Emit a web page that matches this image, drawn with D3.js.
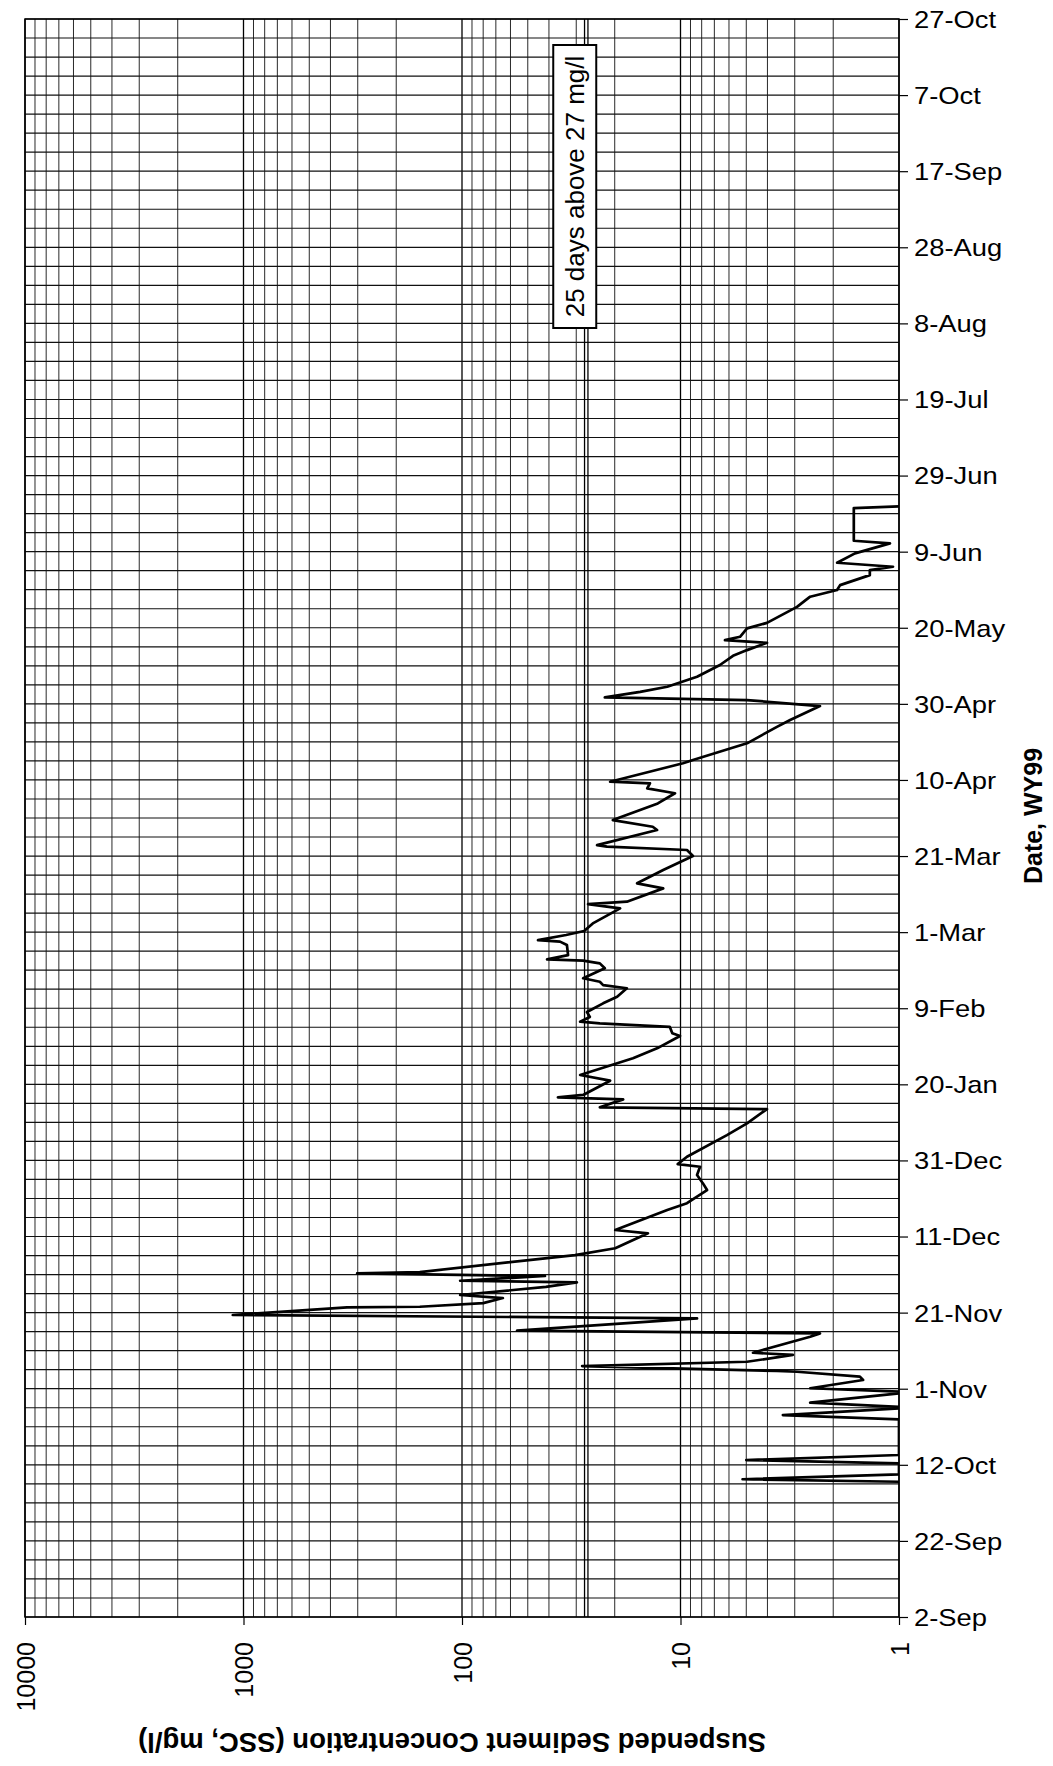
<!DOCTYPE html>
<html>
<head>
<meta charset="utf-8">
<script src="https://cdn.jsdelivr.net/npm/d3@7"></script>
<style>
  body { margin: 0; background: #fff; }
  text { font-family: "Liberation Sans", Arial, sans-serif; fill: #000; }
</style>
</head>
<body>
<svg id="chart" width="1053" height="1766"></svg>
<script>
// Suspended sediment concentration record, water year 1999
const sampleTimes = [
  "1998-10-07T13:00","1998-10-08T05:00","1998-10-09T12:00","1998-10-12T09:00","1998-10-13T06:00",
  "1998-10-14T14:00","1998-10-23T23:00","1998-10-25T02:00","1998-10-26T20:00","1998-10-27T06:00",
  "1998-10-28T08:00","1998-10-30T19:00","1998-10-31T05:00","1998-11-01T03:00","1998-11-03T07:00",
  "1998-11-04T04:00","1998-11-05T11:00","1998-11-05T16:00","1998-11-06T23:00","1998-11-08T02:00",
  "1998-11-09T21:00","1998-11-10T11:00","1998-11-14T16:00","1998-11-15T13:00","1998-11-16T06:00",
  "1998-11-19T12:00","1998-11-20T09:00","1998-11-22T09:00","1998-11-22T13:00","1998-11-23T12:00",
  "1998-11-24T20:00","1998-11-25T15:00","1998-11-27T18:00","1998-11-28T23:00","1998-11-29T09:00",
  "1998-11-30T15:00","1998-12-01T07:00","1998-12-01T16:00","1998-12-05T06:00","1998-12-06T03:00",
  "1998-12-07T22:00","1998-12-11T20:00","1998-12-12T17:00","1998-12-17T23:00","1998-12-19T18:00",
  "1998-12-23T05:00","1998-12-24T23:00","1998-12-27T04:00","1998-12-29T08:00","1998-12-30T01:00",
  "1998-12-31T23:00","1999-01-06T16:00","1999-01-09T18:00","1999-01-13T12:00","1999-01-13T23:00",
  "1999-01-16T01:00","1999-01-16T14:00","1999-01-17T05:00","1999-01-20T23:00","1999-01-22T11:00",
  "1999-01-26T20:00","1999-01-29T11:00","1999-02-01T17:00","1999-02-02T10:00","1999-02-04T03:00",
  "1999-02-05T01:00","1999-02-05T11:00","1999-02-06T17:00","1999-02-08T00:00","1999-02-10T07:00",
  "1999-02-12T00:00","1999-02-14T06:00","1999-02-15T02:00","1999-02-15T23:00","1999-02-16T21:00",
  "1999-02-19T12:00","1999-02-20T19:00","1999-02-21T12:00","1999-02-21T20:00","1999-02-22T23:00",
  "1999-02-25T15:00","1999-02-26T12:00","1999-02-26T22:00","1999-02-28T06:00","1999-03-01T07:00",
  "1999-03-03T07:00","1999-03-07T06:00","1999-03-08T09:00","1999-03-09T00:00","1999-03-12T12:00",
  "1999-03-13T20:00","1999-03-17T08:00","1999-03-21T00:00","1999-03-22T14:00","1999-03-23T11:00",
  "1999-03-23T21:00","1999-03-27T20:00","1999-03-28T17:00","1999-03-30T11:00","1999-04-03T20:00",
  "1999-04-06T12:00","1999-04-07T19:00","1999-04-09T03:00","1999-04-09T13:00","1999-04-14T09:00",
  "1999-04-15T06:00","1999-04-19T15:00","1999-04-23T23:00","1999-04-25T18:00","1999-04-29T10:00",
  "1999-05-01T00:00","1999-05-01T17:00","1999-05-03T04:00","1999-05-04T12:00","1999-05-07T03:00",
  "1999-05-10T05:00","1999-05-12T15:00","1999-05-14T03:00","1999-05-16T01:00","1999-05-16T18:00",
  "1999-05-17T15:00","1999-05-19T20:00","1999-05-21T07:00","1999-05-25T12:00","1999-05-28T04:00",
  "1999-05-29T22:00","1999-05-31T05:00","1999-06-02T20:00","1999-06-04T04:00","1999-06-05T01:00",
  "1999-06-06T02:00","1999-06-08T13:00","1999-06-11T04:00","1999-06-11T21:00","1999-06-20T11:00",
  "1999-06-20T22:00"
];

// SSC, mg/l
const sscValues = [
  1, 5.2, 1, 1, 5.0,
  1, 1, 3.4, 1, 1,
  2.55, 1, 1, 2.55, 1.46,
  1.51, 2.93, 3.62, 28.2, 4.96,
  3.06, 4.66, 2.55, 2.30, 56,
  8.4, 1120, 336, 156, 80,
  65, 102, 41.3, 29.8, 102,
  41.7, 302, 156, 41.7, 30.4,
  19.9, 14.1, 19.9, 11.5, 9.34,
  7.56, 7.89, 8.4, 8.14, 10.3,
  9.34, 6.13, 4.96, 4.02, 23.4,
  18.3, 36.4, 27.9, 21.0, 28.8,
  16.5, 12.8, 10.05, 10.9, 11.2,
  23.4, 28.8, 26.0, 26.8, 22.6,
  19.5, 17.6, 22.6, 23.4, 27.9,
  22.2, 23.4, 27.9, 40.8, 32.7,
  33.1, 35.6, 44.9, 33.4, 27.6,
  25.2, 18.9, 26.5, 17.6, 12.0,
  15.8, 12.0, 8.77, 9.34, 21.7,
  24.1, 12.8, 13.4, 20.4, 12.7,
  10.6, 14.2, 13.8, 21.0, 9.74,
  8.77, 4.96, 3.62, 3.15, 2.30,
  4.96, 22.2, 15.3, 11.5, 8.4,
  6.6, 5.75, 4.96, 4.02, 6.26,
  5.34, 4.96, 4.02, 2.93, 2.55,
  1.92, 1.86, 1.36, 1.36, 1.065,
  1.92, 1.59, 1.10, 1.61, 1.61,
  1
];

// Date axis (labelled every 20 days, gridlines every 5 days)
const dateStart = "1998-09-02";
const dateEnd = "1999-10-27";
const dateTickStep = 20;
const dateGridStep = 5;

// Concentration axis (log)
const sscTicks = [10000, 1000, 100, 10, 1];

// Reference concentration and its note
const threshold = 27;
const thresholdNote = "25 days above 27 mg/l";

const xTitle = "Suspended Sediment Concentration (SSC, mg/l)";
const yTitle = "Date, WY99";

// ---------------------------------------------------------------
const svg = d3.select("#chart");
const W = 1053, H = 1766;
const plot = { left: 25, right: 899, top: 19, bottom: 1617 };

svg.append("rect").attr("width", W).attr("height", H).attr("fill", "#fff");

const parseDay = d3.utcParse("%Y-%m-%d");
const parseTime = d3.utcParse("%Y-%m-%dT%H:%M");
const t0 = parseDay(dateStart), t1 = parseDay(dateEnd);

const y = d3.scaleUtc().domain([t0, t1]).range([plot.bottom, plot.top]);
const x = d3.scaleLog().domain([1, 10000]).range([plot.right, plot.left]);

const nDays = d3.utcDay.count(t0, t1);
const gridDates = d3.range(0, nDays + 1, dateGridStep).map(n => d3.utcDay.offset(t0, n));
const tickDates = d3.range(0, nDays + 1, dateTickStep).map(n => d3.utcDay.offset(t0, n));

// minor log gridlines 2..9 in each decade
const minorSsc = [];
[1, 10, 100, 1000].forEach(d => { for (let k = 2; k <= 9; k++) minorSsc.push(d * k); });

const grid = svg.append("g");
grid.selectAll("line.vmin").data(minorSsc).join("line")
  .attr("x1", d => x(d)).attr("x2", d => x(d))
  .attr("y1", plot.top).attr("y2", plot.bottom)
  .attr("stroke", "#2a2a2a").attr("stroke-width", 1);
grid.selectAll("line.vmaj").data(sscTicks).join("line")
  .attr("x1", d => x(d)).attr("x2", d => x(d))
  .attr("y1", plot.top).attr("y2", plot.bottom)
  .attr("stroke", "#000").attr("stroke-width", 1.3);
grid.selectAll("line.h").data(gridDates).join("line")
  .attr("x1", plot.left).attr("x2", plot.right)
  .attr("y1", d => y(d)).attr("y2", d => y(d))
  .attr("stroke", "#111").attr("stroke-width", 1.2);

// Reference concentration line (double rule)
const xt = x(threshold);
[-1.7, 1.7].forEach(o => {
  svg.append("line")
    .attr("x1", xt + o).attr("x2", xt + o)
    .attr("y1", plot.top).attr("y2", plot.bottom)
    .attr("stroke", "#000").attr("stroke-width", 1.3);
});

// Data line
const series = sampleTimes.map((t, i) => ({ t: parseTime(t), v: sscValues[i] }));
svg.append("clipPath").attr("id", "plotClip").append("rect")
  .attr("x", plot.left).attr("y", plot.top)
  .attr("width", plot.right - plot.left).attr("height", plot.bottom - plot.top);
svg.append("path")
  .datum(series)
  .attr("clip-path", "url(#plotClip)")
  .attr("fill", "none").attr("stroke", "#000")
  .attr("stroke-width", 2.7).attr("stroke-linejoin", "round")
  .attr("d", d3.line().x(d => x(d.v)).y(d => y(d.t)));

// Plot frame
svg.append("rect")
  .attr("x", plot.left).attr("y", plot.top)
  .attr("width", plot.right - plot.left).attr("height", plot.bottom - plot.top)
  .attr("fill", "none").attr("stroke", "#000").attr("stroke-width", 1.5);

// Date axis on the right
const fmtDate = d3.utcFormat("%-d-%b");
const yAxis = svg.append("g")
  .attr("transform", `translate(${plot.right},0)`)
  .call(d3.axisRight(y).tickValues(tickDates).tickSize(9).tickFormat(fmtDate));
yAxis.select(".domain").remove();
yAxis.selectAll(".tick line").attr("stroke", "#000").attr("stroke-width", 1.2);
yAxis.selectAll(".tick text")
  .attr("x", 0).attr("dy", null)
  .attr("dominant-baseline", "central")
  .attr("transform", "translate(15,0) scale(1.14,1)")
  .style("font-family", "'Liberation Sans', Arial, sans-serif")
  .style("font-size", "24px").attr("fill", "#000");

// Concentration axis at the bottom (labels read upward)
const xAxis = svg.append("g")
  .attr("transform", `translate(0,${plot.bottom})`)
  .call(d3.axisBottom(x).tickValues(sscTicks).tickSize(8).tickFormat(d3.format("d")));
xAxis.select(".domain").remove();
xAxis.selectAll(".tick line").attr("stroke", "#000").attr("stroke-width", 1.2);
xAxis.selectAll(".tick text")
  .attr("y", 0).attr("x", -25).attr("dy", "0.36em")
  .attr("transform", "rotate(-90)")
  .attr("text-anchor", "end")
  .style("font-family", "'Liberation Sans', Arial, sans-serif")
  .style("font-size", "25px").attr("fill", "#000");

// Axis titles
svg.append("text")
  .attr("transform", `translate(452,1742) rotate(180)`)
  .attr("text-anchor", "middle").attr("dominant-baseline", "central")
  .style("font-size", "27.5px").style("font-weight", "bold")
  .text(xTitle);

svg.append("text")
  .attr("transform", `translate(1033,816) rotate(-90)`)
  .attr("text-anchor", "middle").attr("dominant-baseline", "central")
  .style("font-size", "25px").style("font-weight", "bold")
  .text(yTitle);

// Note box beside the reference line
const boxW = 43, boxTop = 45, boxBottom = 328;
const boxX = xt - 33;
svg.append("rect")
  .attr("x", boxX).attr("y", boxTop)
  .attr("width", boxW).attr("height", boxBottom - boxTop)
  .attr("fill", "#fff").attr("stroke", "#000").attr("stroke-width", 2);
svg.append("text")
  .attr("transform", `translate(${boxX + boxW / 2},${(boxTop + boxBottom) / 2}) rotate(-90)`)
  .attr("text-anchor", "middle").attr("dominant-baseline", "central")
  .style("font-size", "26px")
  .text(thresholdNote);
</script>
</body>
</html>
